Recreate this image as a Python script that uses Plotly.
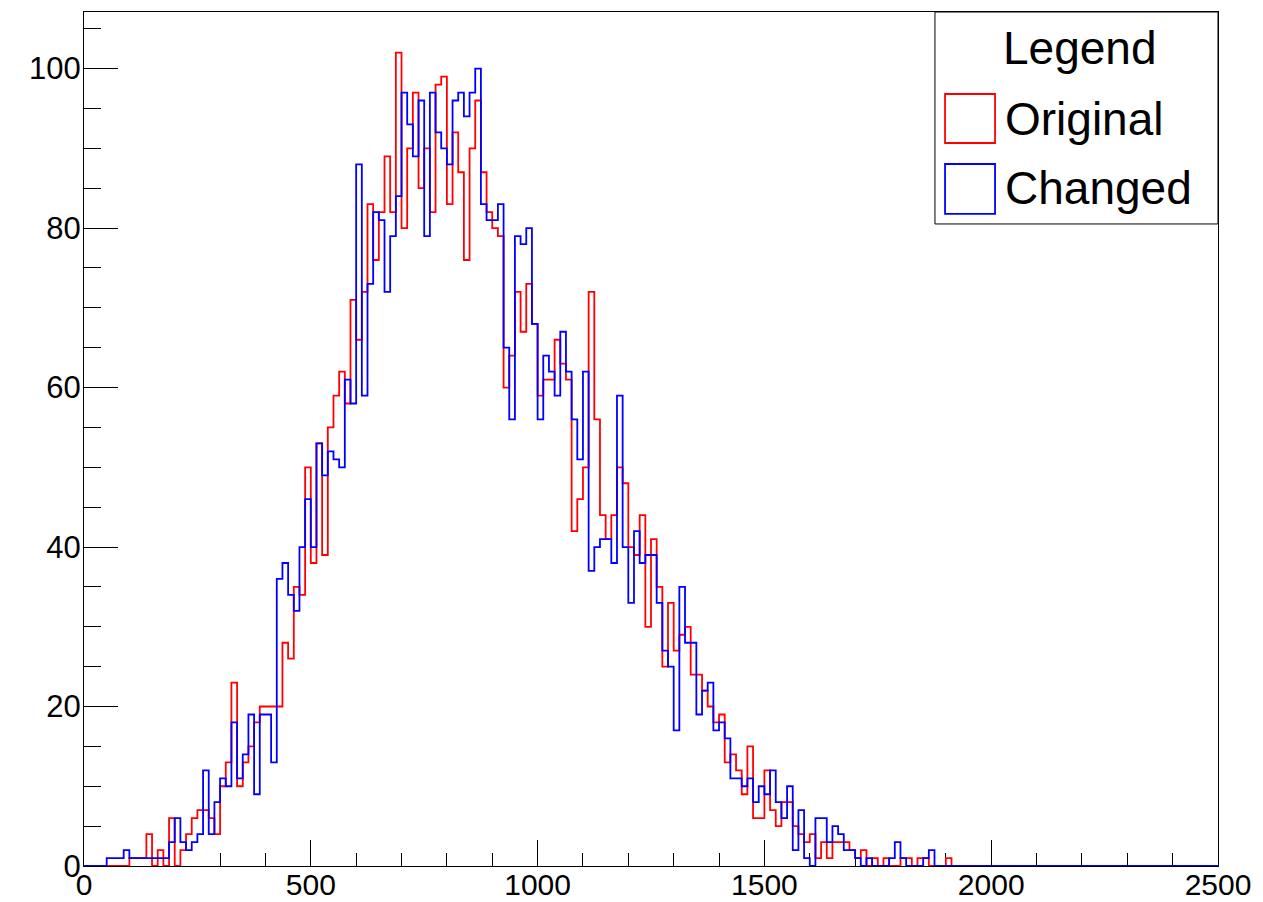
import numpy as np
import plotly.graph_objects as go

# Histogram binning: 200 bins of width 12.5 over [0, 2500]
N_BINS = 200
X_MIN, X_MAX = 0.0, 2500.0
Y_MAX = 107.1

# Bin contents (bins 0..), remaining bins are empty
original_counts = [
    0, 0, 0, 0, 0, 0, 0, 0, 1, 1,
    1, 4, 0, 2, 0, 6, 0, 2, 4, 6,
    7, 7, 6, 4, 10, 13, 23, 10, 13, 15,
    18, 20, 20, 20, 20, 28, 26, 35, 34, 50,
    38, 53, 39, 55, 59, 62, 58, 71, 66, 72,
    83, 76, 82, 89, 82, 102, 80, 90, 97, 85,
    90, 82, 98, 99, 83, 92, 87, 76, 90, 96,
    87, 82, 80, 79, 60, 64, 72, 67, 73, 68,
    59, 61, 61, 66, 63, 61, 42, 46, 50, 72,
    56, 44, 41, 44, 50, 48, 40, 39, 44, 30,
    41, 35, 25, 33, 27, 29, 30, 24, 24, 22,
    20, 18, 19, 13, 14, 12, 9, 15, 6, 6,
    12, 7, 5, 8, 8, 5, 4, 3, 4, 1,
    3, 1, 3, 3, 3, 2, 1, 2, 0, 1,
    0, 1, 0, 0, 1, 1, 0, 1, 1, 0,
    0, 0, 1, 0,
]
changed_counts = [
    0, 0, 0, 0, 1, 1, 1, 2, 1, 1,
    1, 1, 1, 1, 1, 3, 6, 3, 2, 3,
    4, 12, 4, 8, 11, 10, 18, 11, 14, 19,
    9, 19, 19, 13, 36, 38, 34, 32, 40, 46,
    40, 53, 49, 52, 51, 50, 61, 58, 88, 59,
    73, 82, 81, 72, 79, 84, 97, 93, 89, 96,
    79, 97, 92, 90, 88, 96, 97, 94, 97, 100,
    83, 81, 81, 83, 65, 56, 79, 78, 80, 68,
    56, 64, 62, 59, 67, 62, 56, 51, 62, 37,
    40, 41, 41, 38, 59, 40, 33, 42, 38, 39,
    39, 33, 27, 25, 17, 35, 28, 28, 19, 22,
    23, 17, 18, 16, 11, 11, 10, 11, 8, 10,
    9, 12, 8, 6, 10, 2, 7, 1, 0, 6,
    6, 3, 5, 4, 2, 2, 1, 0, 1, 0,
    0, 0, 1, 3, 1, 0, 0, 0, 1, 2,
    0, 0, 0, 0,
]

x_ticks = [0, 500, 1000, 1500, 2000, 2500]
y_ticks = [0, 20, 40, 60, 80, 100]

series = [
    ("Original", original_counts, "#ff0000"),
    ("Changed", changed_counts, "#0000ff"),
]

bin_width = (X_MAX - X_MIN) / N_BINS
edges = X_MIN + bin_width * np.arange(N_BINS + 1)


def step_outline(counts):
    c = np.zeros(N_BINS)
    c[: len(counts)] = counts
    # ROOT-style outline: start and end on the baseline
    xs = np.concatenate([[edges[0]], edges[:-1], [edges[-1]]])
    ys = np.concatenate([[0.0], c, [0.0]])
    return xs, ys


fig = go.Figure()
for name, counts, color in series:
    xs, ys = step_outline(counts)
    fig.add_trace(go.Scatter(
        x=xs, y=ys, mode="lines", name=name,
        line=dict(color=color, width=1.8, shape="hv"),
        showlegend=False, hoverinfo="skip",
    ))

FONT = "Liberation Sans, Arial, Helvetica, sans-serif"

fig.update_layout(
    width=1263, height=902,
    margin=dict(l=84, r=45, t=12, b=36, pad=0),
    paper_bgcolor="white", plot_bgcolor="white",
    font=dict(family=FONT, color="black", size=31),
    xaxis=dict(
        range=[X_MIN, X_MAX], tickvals=x_ticks, ticks="inside", ticklen=26,
        tickwidth=1, tickcolor="black", showgrid=False, zeroline=False,
        showline=True, linecolor="black", linewidth=1, mirror=True,
        minor=dict(dtick=100, ticks="inside", ticklen=13, tickwidth=1,
                   tickcolor="black", showgrid=False),
        tickfont=dict(size=30), automargin=False, layer="below traces",
        ticklabelstandoff=-8,
    ),
    yaxis=dict(
        range=[0, Y_MAX], tickvals=y_ticks, ticks="inside", ticklen=34,
        tickwidth=1, tickcolor="black", showgrid=False, zeroline=False,
        showline=True, linecolor="black", linewidth=1, mirror=True,
        minor=dict(dtick=5, ticks="inside", ticklen=17, tickwidth=1,
                   tickcolor="black", showgrid=False),
        tickfont=dict(size=31), automargin=False, ticklabelstandoff=-4,
    ),
)

# Legend box drawn in paper coordinates (top-right corner of the frame)
fig.add_shape(type="rect", xref="paper", yref="paper",
              x0=0.7504, x1=1.0, y0=0.7518, y1=1.0,
              line=dict(color="black", width=1), fillcolor="white", layer="above")
fig.add_annotation(text="Legend", xref="paper", yref="paper", x=0.8783, y=0.958,
                   xanchor="center", yanchor="middle", showarrow=False,
                   font=dict(size=46, family=FONT, color="black"))
swatches = [(0.904, 0.8466, 0.875), (0.822, 0.7635, 0.794)]
for (name, _, color), (ytop, ybot, ytext) in zip(series, swatches):
    fig.add_shape(type="rect", xref="paper", yref="paper",
                  x0=0.7593, x1=0.8034, y0=ybot, y1=ytop,
                  line=dict(color=color, width=1.8), fillcolor="white", layer="above")
    fig.add_annotation(text=name, xref="paper", yref="paper", x=0.8105, y=ytext,
                       xanchor="left", yanchor="middle", showarrow=False,
                       font=dict(size=46, family=FONT, color="black"))

fig.write_html("out.html")
